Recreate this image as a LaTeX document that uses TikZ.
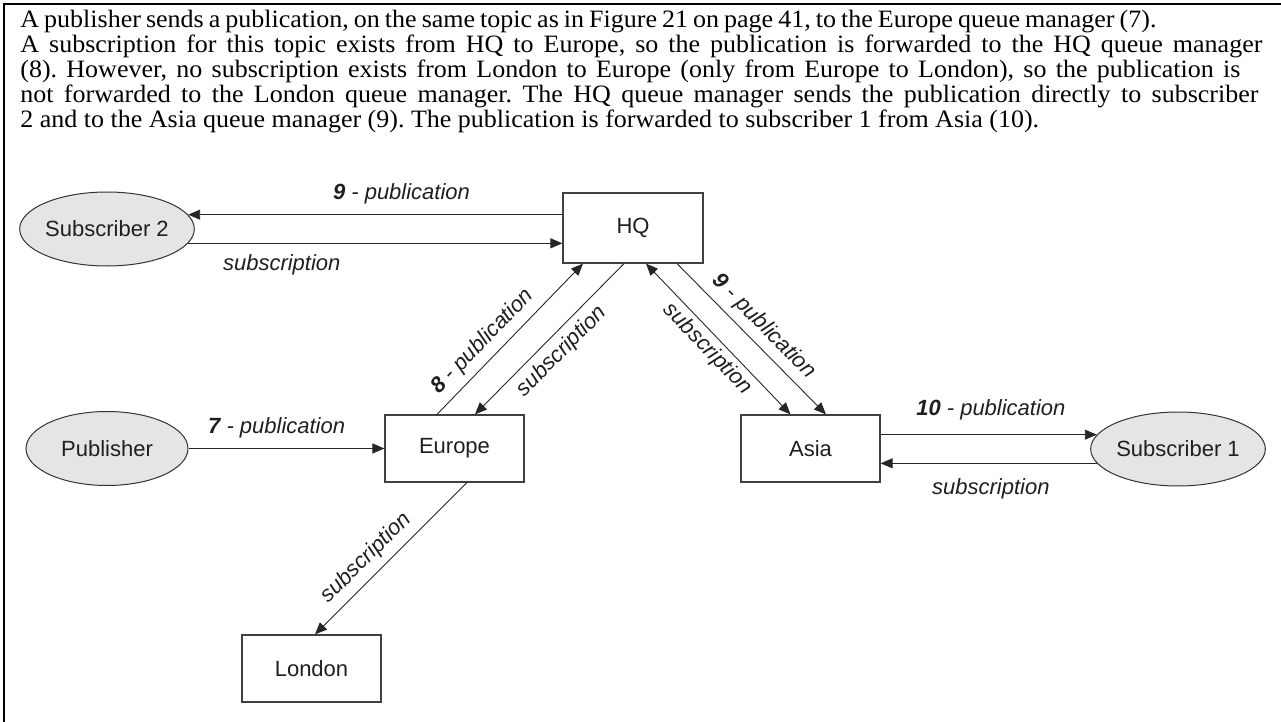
\documentclass[tikz,border=0pt]{standalone}
\usepackage{fontspec}
\setmainfont{Liberation Serif}
\newfontfamily\diagfont{Liberation Sans}
\newfontfamily\bodyfont[FakeStretch=1.04]{Liberation Serif}
\usetikzlibrary{shapes.geometric,arrows.meta,calc}

% one line of the paragraph, set to a given width
\newcommand{\textrow}[2]{\makebox[#1][s]{#2}}

\begin{document}
\frenchspacing
\begin{tikzpicture}[x=0.5pt,y=-0.5pt,
  >={Triangle[length=6pt,width=5pt]},
  every node/.style={font=\diagfont\fontsize{11}{13}\selectfont, text=black!88},
  qm/.style={draw=black!75, line width=0.6pt, minimum width=69.5pt, minimum height=33.5pt, inner sep=0pt},
  client/.style={ellipse, draw=black!80, line width=0.5pt, fill=black!10, minimum width=81pt, minimum height=37pt, inner sep=0pt},
  flow/.style={draw=black!85, line width=0.45pt, ->},
  lbl/.style={font=\diagfont\itshape\fontsize{11}{13}\selectfont, inner sep=0pt},
  bodyline/.style={anchor=base west, inner sep=0pt, font=\bodyfont\fontsize{12.5}{14}\selectfont, text=black}
]
\useasboundingbox (0,0) rectangle (1281,722);

% frame rules
\draw[line width=1pt] (4,722) -- (4,4) -- (1281,4);

% description text
\node[bodyline] (t1) at (20,28)  {\textrow{568pt}{A publisher sends a publication, on the same topic as in Figure~21 on page~41, to the Europe queue manager (7).}};
\node[bodyline] (t2) at (20,53)  {\textrow{621pt}{A subscription for this topic exists from HQ to Europe, so the publication is forwarded to the HQ queue manager}};
\node[bodyline] (t3) at (20,78)  {\textrow{610pt}{(8). However, no subscription exists from London to Europe (only from Europe to London), so the publication is}};
\node[bodyline] (t4) at (20,103) {\textrow{619pt}{not forwarded to the London queue manager. The HQ queue manager sends the publication directly to subscriber}};
\node[bodyline] (t5) at (20,128) {2 and to the Asia queue manager (9). The publication is forwarded to subscriber 1 from Asia (10).};

% queue managers and clients
\node[client] (sub2) at (107,229) {Subscriber 2};
\node[qm, minimum width=70pt, minimum height=35pt] (hq) at (633,228) {HQ};
\node[client] (pub) at (107,448.5) {Publisher};
\node[qm] (europe) at (454.5,448.5) {Europe};
\node[qm] (asia) at (810.5,448.5) {Asia};
\node[client] (sub1) at (1178,449) {Subscriber 1};
\node[qm] (london) at (311.5,668.5) {London};

% HQ <-> Subscriber 2
\draw[flow] (sub2.10 -| hq.west) -- (sub2.10)
  node[lbl, pos=0.43, above=5pt] {\textbf{9} - publication};
\draw[flow] (sub2.-10) -- (sub2.-10 -| hq.west)
  node[lbl, pos=0.25, below=5.5pt] {subscription};

% Publisher -> Europe
\draw[flow] (pub.east) -- (europe.west)
  node[lbl, pos=0.45, above=5pt] {\textbf{7} - publication};

% Asia <-> Subscriber 1
\draw[flow] (asia.east |- sub1.170) -- (sub1.170)
  node[lbl, pos=0.51, above=7pt] {\textbf{10} - publication};
\draw[flow] (sub1.190) -- (sub1.190 -| asia.east)
  node[lbl, pos=0.49, below=7.5pt] {subscription};

% Europe <-> HQ
\draw[flow] ($(europe.north)+(-17.5,0)$) -- ($(hq.south)+(-50,0)$)
  node[lbl, pos=0.4, sloped, above=3.5pt] {\textbf{8} - publication};
\draw[flow] ($(hq.south)+(-9,0)$) -- ($(europe.north)+(20.5,0)$)
  node[lbl, midway, sloped, below=3.5pt] {subscription};

% HQ <-> Asia
\draw[flow, <->] ($(hq.south)+(13,0)$) -- ($(asia.north)+(-20,0)$)
  node[lbl, pos=0.5, sloped, below=2pt] {subscription};
\draw[flow] ($(hq.south)+(44,0)$) -- ($(asia.north)+(15.5,0)$)
  node[lbl, pos=0.5, sloped, above=3.5pt] {\textbf{9} - publication};

% Europe -> London
\draw[flow] ($(europe.south)+(12.5,0)$) -- ($(london.north)+(3.5,0)$)
  node[lbl, pos=0.58, sloped, above=3.5pt] {subscription};
\end{tikzpicture}
\end{document}
